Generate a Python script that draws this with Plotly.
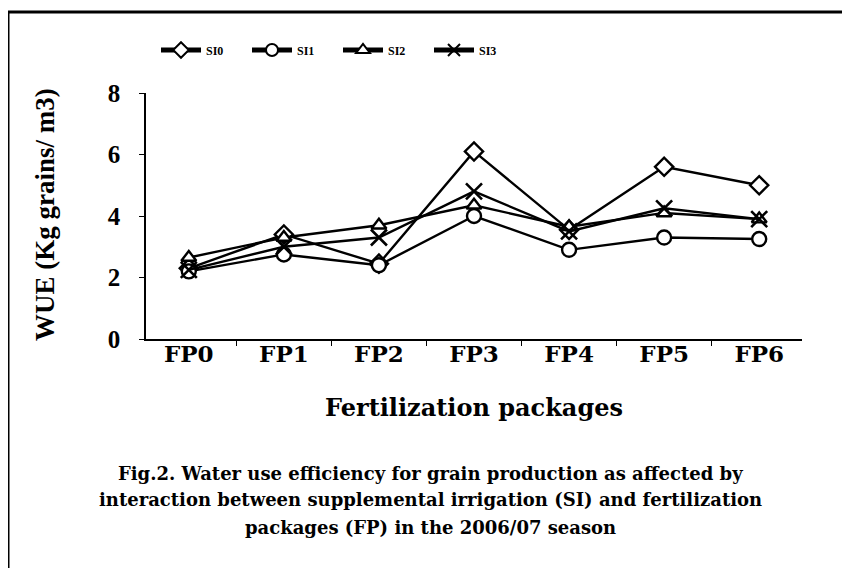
import plotly.graph_objects as go

categories = ["FP0", "FP1", "FP2", "FP3", "FP4", "FP5", "FP6"]
series_names = ["SI0", "SI1", "SI2", "SI3"]
si0 = [2.3, 3.4, 2.45, 6.1, 3.55, 5.6, 5.0]
si1 = [2.2, 2.75, 2.4, 4.0, 2.9, 3.3, 3.25]
si2 = [2.65, 3.3, 3.7, 4.35, 3.65, 4.1, 3.9]
si3 = [2.25, 3.0, 3.3, 4.8, 3.5, 4.25, 3.9]
y_ticks = [0, 2, 4, 6, 8]

values = [si0, si1, si2, si3]
symbols = ["diamond", "circle", "triangle-up", "x-thin"]
sizes = [14, 14, 13, 16]

OFF = 8  # page body margin
W, H = 850, 568
# plot area in screen pixels
SX0, SX1, SY0, SY1 = 146, 802, 93, 339
L = SX0 - OFF
R = W - (SX1 - OFF)
T = SY0 - OFF
B = H - (SY1 - OFF)
pw, ph = SX1 - SX0, SY1 - SY0


def px(x):
    return (x - SX0) / pw


def py(y):
    return (SY1 - y) / ph


fig = go.Figure()
for name, vals, sym, sz in zip(series_names, values, symbols, sizes):
    if sym == "x-thin":
        marker = dict(symbol=sym, size=sz, color="black", line=dict(color="black", width=2.6))
    else:
        marker = dict(symbol=sym, size=sz, color="white", line=dict(color="black", width=2.4))
    fig.add_trace(go.Scatter(
        x=categories, y=vals, name=name, mode="lines+markers",
        line=dict(color="black", width=2.4), marker=marker,
    ))

serif = "Liberation Serif"
dserif = "DejaVu Serif"
fig.update_layout(
    width=W, height=H,
    margin=dict(l=L, r=R, t=T, b=B, autoexpand=False),
    paper_bgcolor="white", plot_bgcolor="white",
    showlegend=True,
    legend=dict(orientation="h", x=px(156), y=py(50), xanchor="left", yanchor="middle",
                font=dict(family=serif, size=12, color="black", weight="bold"),
                bgcolor="rgba(0,0,0,0)", itemwidth=40, itemsizing="constant",
                entrywidth=36, entrywidthmode="pixels", tracegroupgap=0),
    xaxis=dict(type="category", showline=True, linecolor="black", linewidth=1.5,
               ticks="outside", ticklen=5, tickcolor="black", tickson="boundaries",
               tickfont=dict(family=dserif, size=23, color="black", weight="bold"),
               ticklabelstandoff=-6,
               showgrid=False, zeroline=False, mirror=False),
    yaxis=dict(range=[0, 8], tickvals=y_ticks, showline=True, linecolor="black", linewidth=1.5,
               ticks="outside", ticklen=5, tickcolor="black",
               tickfont=dict(family=serif, size=25, color="black", weight="bold"),
               ticklabelstandoff=14,
               showgrid=False, zeroline=False),
)

fig.add_annotation(text="<b>Fertilization packages</b>", xref="paper", yref="paper",
                   x=px(474), y=py(407), xanchor="center", yanchor="middle", showarrow=False,
                   font=dict(family=dserif, size=24, color="black"))
fig.add_annotation(text="<b>WUE (Kg grains/ m3)</b>", xref="paper", yref="paper",
                   x=px(45), y=py(215), xanchor="center", yanchor="middle",
                   showarrow=False, textangle=-90,
                   font=dict(family=serif, size=27, color="black"))

captions = [
    "Fig.2. Water use efficiency for grain production as affected by",
    "interaction between supplemental irrigation (SI) and fertilization",
    "packages (FP) in the 2006/07 season",
]
for i, c in enumerate(captions):
    fig.add_annotation(text="<b>" + c + "</b>", xref="paper", yref="paper",
                       x=px(430), y=py(473 + 27 * i), xanchor="center", yanchor="middle",
                       showarrow=False,
                       font=dict(family=dserif, size=18, color="black"))

fig.add_shape(type="line", xref="paper", yref="paper", x0=px(8), x1=px(858), y0=py(12), y1=py(12),
              line=dict(color="black", width=3))
fig.add_shape(type="line", xref="paper", yref="paper", x0=px(8), x1=px(8), y0=py(12), y1=py(580),
              line=dict(color="black", width=3))

fig.write_html("out.html")
